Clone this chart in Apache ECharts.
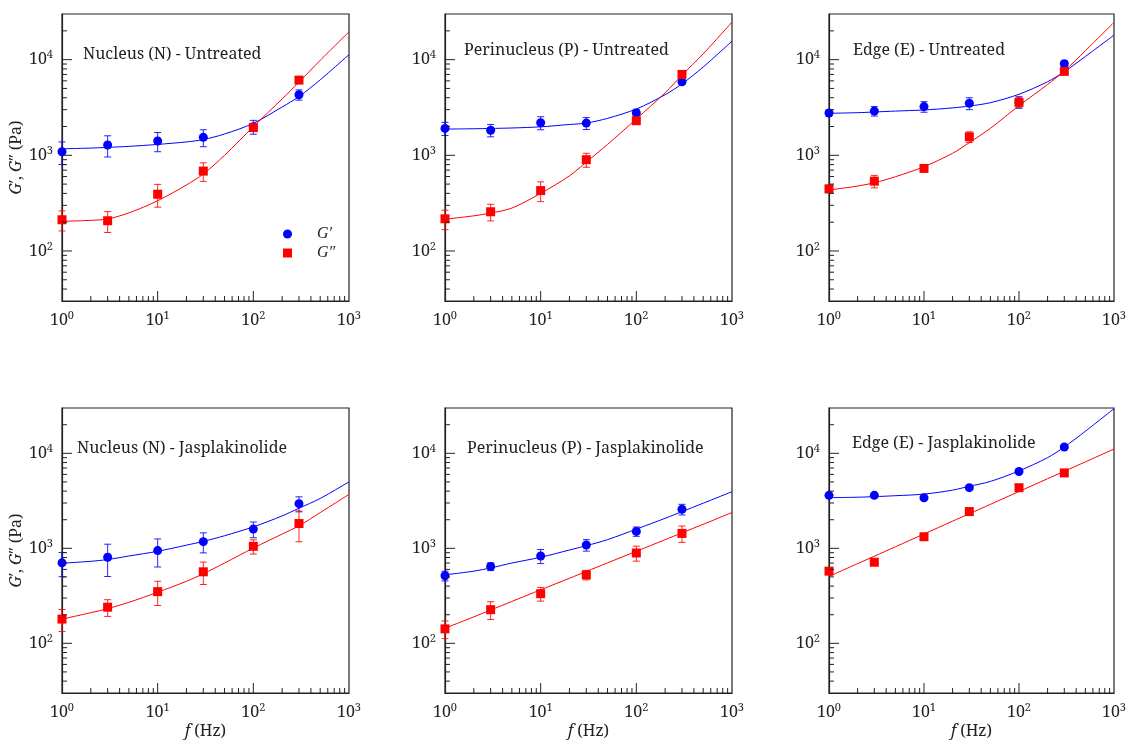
<!DOCTYPE html>
<html>
<head>
<meta charset="utf-8">
<script src="https://cdn.jsdelivr.net/npm/echarts@6/dist/echarts.min.js"></script>
<style>
html,body{margin:0;padding:0;background:#fff;}
#chart{width:1129px;height:740px;}
</style>
</head>
<body>
<div id="chart"></div>
<script>
// ---------- data ----------
const F = [1, 3, 10, 30, 100, 300];
const FIT_F = [1, 2, 3, 5, 10, 20, 30, 50, 100, 200, 300, 500, 1000];

const TITLES = [
  'Nucleus (N) - Untreated', 'Perinucleus (P) - Untreated', 'Edge (E) - Untreated',
  'Nucleus (N) - Jasplakinolide', 'Perinucleus (P) - Jasplakinolide', 'Edge (E) - Jasplakinolide'
];

// Nucleus - Untreated
const NU_GP      = [1090, 1280, 1410, 1540, 1990, 4300];
const NU_GP_ERR  = [290, 320, 320, 310, 330, 530];
const NU_GPP     = [212, 207, 392, 684, 1950, 6110];
const NU_GPP_ERR = [50, 51, 105, 150, 180, 300];
const NU_GP_FIT  = [1170, 1190, 1210, 1240, 1300, 1380, 1460, 1670, 2160, 3200, 4110, 6150, 11290];
const NU_GPP_FIT = [204, 209, 216, 250, 335, 490, 638, 1000, 1990, 3882, 5820, 9840, 19540];

// Perinucleus - Untreated
const PU_GP      = [1910, 1830, 2190, 2170, 2770, 5860];
const PU_GP_ERR  = [300, 270, 340, 310, 260, 300];
const PU_GPP     = [217, 257, 428, 900, 2300, 7010];
const PU_GPP_ERR = [50, 51, 100, 150, 150, 300];
const PU_GP_FIT  = [1879, 1895, 1909, 1930, 1985, 2100, 2173, 2433, 3048, 4300, 5590, 8380, 15610];
const PU_GPP_FIT = [215, 233, 249, 281, 400, 610, 850, 1300, 2400, 4500, 6900, 11500, 24700];

// Edge - Untreated
const EU_GP      = [2770, 2900, 3230, 3500, 3600, 9070];
const EU_GP_ERR  = [200, 330, 410, 500, 500, 600];
const EU_GPP     = [446, 537, 730, 1560, 3580, 7540];
const EU_GPP_ERR = [40, 80, 60, 200, 400, 300];
const EU_GP_FIT  = [2748, 2790, 2838, 2900, 2979, 3130, 3273, 3548, 4345, 5875, 7480, 10800, 18030];
const EU_GPP_FIT = [434, 477, 517, 597, 760, 1050, 1356, 1916, 3300, 5500, 7600, 12400, 24480];

// Nucleus - Jasplakinolide
const NJ_GP      = [703, 805, 946, 1175, 1593, 2952];
const NJ_GP_ERR  = [200, 300, 310, 280, 300, 530];
const NJ_GPP     = [180, 240, 350, 566, 1050, 1824];
const NJ_GPP_ERR = [47, 48, 100, 150, 180, 650];
const NJ_GP_FIT  = [697, 730, 762, 830, 931, 1080, 1183, 1356, 1683, 2193, 2642, 3350, 5010];
const NJ_GPP_FIT = [180, 210, 232, 270, 345, 450, 540, 700, 1007, 1413, 1726, 2376, 3700];

// Perinucleus - Jasplakinolide
const PJ_GP      = [514, 643, 831, 1084, 1507, 2575];
const PJ_GP_ERR  = [60, 60, 140, 150, 170, 330];
const PJ_GPP     = [142, 226, 333, 526, 893, 1436];
const PJ_GPP_ERR = [30, 48, 55, 60, 160, 280];
const PJ_GP_FIT  = [526, 575, 622, 700, 805, 960, 1066, 1234, 1593, 2070, 2432, 2985, 3945];
const PJ_GPP_FIT = [144, 190, 224, 276, 366, 484, 571, 703, 931, 1233, 1456, 1791, 2380];

// Edge - Jasplakinolide
const EJ_GP      = [3610, 3610, 3410, 4350, 6430, 11650];
const EJ_GP_ERR  = [0, 0, 0, 0, 0, 0];
const EJ_GPP     = [575, 714, 1324, 2437, 4345, 6220];
const EJ_GPP_ERR = [0, 0, 0, 0, 0, 0];
const EJ_GP_FIT  = [3413, 3450, 3499, 3580, 3720, 4100, 4500, 5060, 6530, 9000, 11650, 17100, 29500];
const EJ_GPP_FIT = [506, 690, 826, 1038, 1416, 1932, 2312, 2904, 3963, 5408, 6471, 8128, 11090];

// axis ticks
const X_MAJOR = [10, 100];
const X_MINOR = [2, 3, 4, 5, 6, 7, 8, 9, 20, 30, 40, 50, 60, 70, 80, 90, 200, 300, 400, 500, 600, 700, 800, 900];
const Y_MAJOR = [100, 1000, 10000];
const Y_MINOR = [40, 50, 60, 70, 80, 90, 200, 300, 400, 500, 600, 700, 800, 900,
                 2000, 3000, 4000, 5000, 6000, 7000, 8000, 9000, 20000];

// ---------- chart ----------
const PANELS = [
  [NU_GP, NU_GP_ERR, NU_GPP, NU_GPP_ERR, NU_GP_FIT, NU_GPP_FIT],
  [PU_GP, PU_GP_ERR, PU_GPP, PU_GPP_ERR, PU_GP_FIT, PU_GPP_FIT],
  [EU_GP, EU_GP_ERR, EU_GPP, EU_GPP_ERR, EU_GP_FIT, EU_GPP_FIT],
  [NJ_GP, NJ_GP_ERR, NJ_GPP, NJ_GPP_ERR, NJ_GP_FIT, NJ_GPP_FIT],
  [PJ_GP, PJ_GP_ERR, PJ_GPP, PJ_GPP_ERR, PJ_GP_FIT, PJ_GPP_FIT],
  [EJ_GP, EJ_GP_ERR, EJ_GPP, EJ_GPP_ERR, EJ_GP_FIT, EJ_GPP_FIT]
];

const FONT = '"Noto Serif", "DejaVu Serif", serif';
const BLUE = '#0000ff', RED = '#ff0000', AX = '#222222';
const GRID_LEFT = [62, 445, 829];
const GRID_TOP = [14, 408];
const GRID_W = 287, GRID_H = 287;
const TITLE_POS = [[83, 46], [464, 42], [853, 42], [77, 440], [467, 440], [852, 435]];

const grids = [], xAxes = [], yAxes = [], series = [], titles = [];

function powLabel(v) {
  const e = Math.log10(v);
  if (Math.abs(e - Math.round(e)) > 1e-6) return '';
  return '10{s|' + Math.round(e) + '}';
}
const richSup = { s: { fontSize: 11, fontFamily: FONT, color: AX, padding: [0, 0, 9, 0] } };

function errRender(params, api) {
  const x = api.value(0), y = api.value(1), e = api.value(2);
  if (!e) return null;
  const t = api.coord([x, y + e]);
  const b = api.coord([x, Math.max(y - e, 1)]);
  const c = api.visual('color');
  const hw = 3.5;
  const st = { stroke: c, lineWidth: 1, opacity: 0.85 };
  return {
    type: 'group',
    children: [
      { type: 'line', shape: { x1: t[0], y1: t[1], x2: b[0], y2: b[1] }, style: st },
      { type: 'line', shape: { x1: t[0] - hw, y1: t[1], x2: t[0] + hw, y2: t[1] }, style: st },
      { type: 'line', shape: { x1: b[0] - hw, y1: b[1], x2: b[0] + hw, y2: b[1] }, style: st }
    ]
  };
}

function tickRender(params, api) {
  const p = api.coord([api.value(0), api.value(1)]);
  const len = api.value(2) ? 10 : 5;
  const isX = api.value(3) === 1;
  const shape = isX ? { x1: p[0], y1: p[1], x2: p[0], y2: p[1] - len }
                    : { x1: p[0], y1: p[1], x2: p[0] + len, y2: p[1] };
  return { type: 'line', shape: shape, style: { stroke: AX, lineWidth: 1 } };
}

const tickData = [];
X_MAJOR.forEach(v => tickData.push([v, 30, 1, 1]));
X_MINOR.forEach(v => tickData.push([v, 30, 0, 1]));
Y_MAJOR.forEach(v => tickData.push([1, v, 1, 0]));
Y_MINOR.forEach(v => tickData.push([1, v, 0, 0]));

PANELS.forEach((p, i) => {
  const col = i % 3, row = Math.floor(i / 3);
  grids.push({
    left: GRID_LEFT[col], top: GRID_TOP[row], width: GRID_W, height: GRID_H,
    show: true, borderColor: AX, borderWidth: 1.2, backgroundColor: 'transparent'
  });
  xAxes.push({
    type: 'log', logBase: 10, min: 1, max: 1000, gridIndex: i,
    axisLine: { show: true, lineStyle: { color: AX, width: 1.2 } },
    axisTick: { show: false }, splitLine: { show: false }, minorTick: { show: false },
    axisLabel: { formatter: powLabel, fontFamily: FONT, fontSize: 16, color: AX, margin: 9, rich: richSup,
                 showMinLabel: true, showMaxLabel: true },
    name: row === 1 ? '{i|f} (Hz)' : '',
    nameLocation: 'middle', nameGap: 30,
    nameTextStyle: { fontFamily: FONT, fontSize: 16, color: AX,
                     rich: { i: { fontStyle: 'italic', fontFamily: FONT, fontSize: 16, color: AX } } }
  });
  yAxes.push({
    type: 'log', logBase: 10, min: 30, max: 30000, gridIndex: i,
    axisLine: { show: true, lineStyle: { color: AX, width: 1.2 } },
    axisTick: { show: false }, splitLine: { show: false }, minorTick: { show: false },
    axisLabel: { formatter: powLabel, fontFamily: FONT, fontSize: 16, color: AX, margin: 9, rich: richSup,
                 showMinLabel: true, showMaxLabel: true },
    name: col === 0 ? '{i|G}′, {i|G}″ (Pa)' : '',
    nameLocation: 'middle', nameGap: 38, nameRotate: 90,
    nameTextStyle: { fontFamily: FONT, fontSize: 16, color: AX,
                     rich: { i: { fontStyle: 'italic', fontFamily: FONT, fontSize: 16, color: AX } } }
  });
  titles.push({
    text: TITLES[i], left: TITLE_POS[i][0], top: TITLE_POS[i][1], padding: 0,
    textStyle: { fontFamily: FONT, fontSize: 16, fontWeight: 'normal', color: AX }
  });

  const [gp, gpErr, gpp, gppErr, gpFit, gppFit] = p;
  const mk = (vals) => F.map((f, k) => [f, vals[k]]);
  const mkE = (vals, errs) => F.map((f, k) => [f, vals[k], errs[k]]);
  const mkFit = (vals) => FIT_F.map((f, k) => [f, vals[k]]);

  series.push({
    name: 'errGp' + i, type: 'custom', xAxisIndex: i, yAxisIndex: i, renderItem: errRender,
    itemStyle: { color: BLUE }, data: mkE(gp, gpErr), encode: { x: 0, y: 1 }, z: 2, silent: true
  });
  series.push({
    name: 'fitGp' + i, type: 'line', xAxisIndex: i, yAxisIndex: i, data: mkFit(gpFit),
    showSymbol: false, symbol: 'none', smooth: 0.3, lineStyle: { color: BLUE, width: 1 }, z: 3, silent: true
  });
  series.push({
    name: 'G′', type: 'scatter', xAxisIndex: i, yAxisIndex: i, data: mk(gp),
    symbol: 'circle', symbolSize: 9, itemStyle: { color: BLUE, opacity: 1 }, z: 4, silent: true
  });
  series.push({
    name: 'errGpp' + i, type: 'custom', xAxisIndex: i, yAxisIndex: i, renderItem: errRender,
    itemStyle: { color: RED }, data: mkE(gpp, gppErr), encode: { x: 0, y: 1 }, z: 5, silent: true
  });
  series.push({
    name: 'fitGpp' + i, type: 'line', xAxisIndex: i, yAxisIndex: i, data: mkFit(gppFit),
    showSymbol: false, symbol: 'none', smooth: 0.3, lineStyle: { color: RED, width: 1 }, z: 6, silent: true
  });
  series.push({
    name: 'G″', type: 'scatter', xAxisIndex: i, yAxisIndex: i, data: mk(gpp),
    symbol: 'rect', symbolSize: 9, itemStyle: { color: RED, opacity: 1 }, z: 7, silent: true
  });
  series.push({
    name: 'ticks' + i, type: 'custom', xAxisIndex: i, yAxisIndex: i, renderItem: tickRender,
    data: tickData, encode: { x: 0, y: 1 }, z: 8, silent: true, clip: false
  });
});

const chart = echarts.init(document.getElementById('chart'), null, { renderer: 'canvas' });
chart.setOption({
  animation: false,
  backgroundColor: '#ffffff',
  title: titles,
  grid: grids,
  xAxis: xAxes,
  yAxis: yAxes,
  legend: {
    data: [{ name: 'G′', icon: 'circle' }, { name: 'G″', icon: 'rect' }],
    orient: 'vertical', left: 283, top: 226, padding: 0, itemWidth: 9, itemHeight: 9, itemGap: 3,
    selectedMode: false,
    textStyle: { fontFamily: '"Liberation Serif", serif', fontStyle: 'italic', fontSize: 16, color: AX,
                 lineHeight: 16, padding: [0, 0, 0, 20] }
  },
  series: series
});
</script>
</body>
</html>
